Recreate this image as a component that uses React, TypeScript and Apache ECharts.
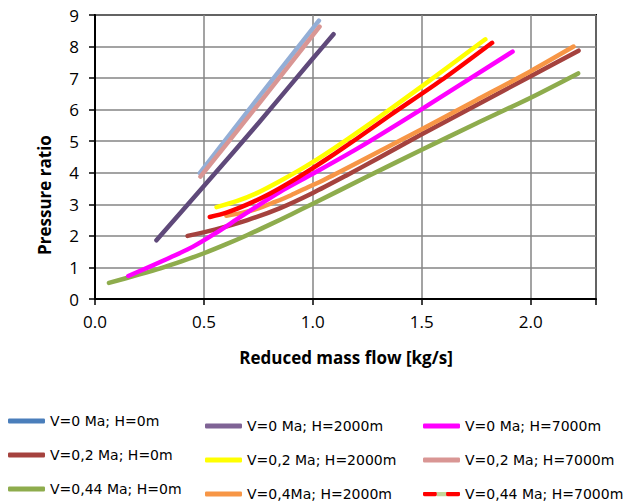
import React, { useEffect, useRef } from 'react';
import * as echarts from 'echarts';

// Series names (legend order: column-wise)
const seriesNames = [
  'V=0 Ma; H=0m',
  'V=0,2 Ma; H=0m',
  'V=0,44 Ma; H=0m',
  'V=0 Ma; H=2000m',
  'V=0,2 Ma; H=2000m',
  'V=0,4Ma; H=2000m',
  'V=0 Ma; H=7000m',
  'V=0,2 Ma; H=7000m',
  'V=0,44 Ma; H=7000m',
];

// [reduced mass flow, pressure ratio]
const v0h0 = [[0.481, 3.99], [0.75, 6.38], [1.028, 8.82]];
const v02h0 = [[0.425, 2.0], [0.55, 2.2], [0.7, 2.5], [0.85, 2.88], [1.0, 3.36], [1.15, 3.9], [1.3, 4.46], [1.5, 5.22], [1.75, 6.14], [2.0, 7.06], [2.22, 7.87]];
const v044h0 = [[0.064, 0.51], [0.2, 0.77], [0.3, 0.97], [0.4, 1.2], [0.5, 1.45], [0.6, 1.73], [0.7, 2.03], [0.8, 2.35], [0.9, 2.68], [1.0, 3.02], [1.25, 3.88], [1.5, 4.73], [1.75, 5.56], [2.0, 6.38], [2.218, 7.15]];
const v0h2000 = [[0.282, 1.86], [0.5, 3.58], [0.75, 5.57], [1.0, 7.62], [1.095, 8.39]];
const v02h2000 = [[0.558, 2.91], [0.65, 3.1], [0.75, 3.38], [0.85, 3.74], [0.95, 4.13], [1.05, 4.56], [1.15, 5.02], [1.3, 5.74], [1.5, 6.74], [1.792, 8.23]];
const v04h2000 = [[0.603, 2.64], [0.67, 2.72], [0.75, 2.87], [0.82, 3.06], [0.9, 3.29], [0.98, 3.55], [1.05, 3.77], [1.2, 4.3], [1.5, 5.38], [1.75, 6.3], [2.0, 7.22], [2.197, 8.0]];
const v0h7000 = [[0.153, 0.73], [0.25, 1.02], [0.35, 1.33], [0.45, 1.66], [0.55, 2.07], [0.65, 2.52], [0.75, 2.97], [0.85, 3.4], [1.0, 3.97], [1.2, 4.75], [1.5, 6.02], [1.917, 7.84]];
const v02h7000 = [[0.484, 3.88], [0.75, 6.17], [1.031, 8.63]];
const v044h7000 = [[0.527, 2.6], [0.6, 2.73], [0.7, 3.0], [0.8, 3.33], [0.9, 3.72], [1.0, 4.15], [1.1, 4.6], [1.2, 5.07], [1.35, 5.8], [1.6, 6.98], [1.823, 8.12]];

const seriesData = [v0h0, v02h0, v044h0, v0h2000, v02h2000, v04h2000, v0h7000, v02h7000, v044h7000];

const lineColors = ['#93AED6', '#A5423E', '#8EAC4D', '#5F497A', '#FFFF00', '#F79646', '#FF00FF', '#D99694', '#FF0000'];
const legendColors = ['#4A7EBB', '#A5423E', '#8EAC4D', '#7F6395', '#FFFF00', '#F79646', '#FF00FF', '#D99694', '#FF0000'];

const xTicks = { min: 0, max: 2.3, interval: 0.5 };
const yTicks = { min: 0, max: 9, interval: 1 };

const xTitle = 'Reduced mass flow [kg/s]';
const yTitle = 'Pressure ratio';

const redGreenSvg =
  "<svg xmlns='http://www.w3.org/2000/svg' width='40' height='5'>" +
  "<rect x='0' y='0' width='15' height='5' rx='2' fill='#FF0000'/>" +
  "<rect x='15' y='0' width='11' height='5' fill='#C3D69B'/>" +
  "<rect x='25' y='0' width='15' height='5' rx='2' fill='#FF0000'/></svg>";
const redGreenIcon = 'image://data:image/svg+xml;charset=utf-8,' + encodeURIComponent(redGreenSvg);

export default function App() {
  const ref = useRef<HTMLDivElement>(null);

  useEffect(() => {
    if (!ref.current) return;
    const chart = echarts.init(ref.current, undefined, { renderer: 'svg' });

    const tickFont = { fontFamily: 'Open Sans', fontSize: 17, color: '#000' };

    const legendItem = (i: number) => {
      const item: any = { name: seriesNames[i], itemStyle: { color: legendColors[i] } };
      if (i === 8) item.icon = redGreenIcon;
      return item;
    };

    const legendBase = {
      orient: 'vertical' as const,
      itemWidth: 37,
      itemHeight: 5,
      itemGap: 18,
      icon: 'roundRect',
      padding: 0,
      selectedMode: false,
      textStyle: { fontFamily: 'DejaVu Sans', fontSize: 14, lineHeight: 16, color: '#000' },
    };

    chart.setOption({
      animation: false,
      backgroundColor: '#fff',
      grid: {
        left: 95,
        top: 15,
        right: 38,
        bottom: 203,
        show: true,
        borderColor: '#000',
        borderWidth: 2,
        backgroundColor: 'transparent',
      },
      xAxis: {
        type: 'value',
        min: xTicks.min,
        max: xTicks.max,
        interval: xTicks.interval,
        axisLine: { show: true, onZero: false, lineStyle: { color: '#000', width: 2 } },
        axisTick: { show: true, length: 6, lineStyle: { color: '#000', width: 1.5 } },
        splitLine: { show: true, lineStyle: { color: '#858585', width: 1.5 } },
        axisLabel: {
          ...tickFont,
          margin: 14,
          formatter: (v: number) =>
            Math.abs(v / xTicks.interval - Math.round(v / xTicks.interval)) < 1e-6 ? v.toFixed(1) : '',
        },
      },
      yAxis: {
        type: 'value',
        min: yTicks.min,
        max: yTicks.max,
        interval: yTicks.interval,
        axisLine: { show: true, onZero: false, lineStyle: { color: '#000', width: 2 } },
        axisTick: { show: true, length: 6, lineStyle: { color: '#000', width: 1.5 } },
        splitLine: { show: true, lineStyle: { color: '#858585', width: 1.5 } },
        axisLabel: { ...tickFont, margin: 16 },
      },
      legend: [
        { ...legendBase, left: 8, top: 413, data: [0, 1, 2].map(legendItem) },
        { ...legendBase, left: 205, top: 418, data: [3, 4, 5].map(legendItem) },
        { ...legendBase, left: 423, top: 418, data: [6, 7, 8].map(legendItem) },
      ],
      graphic: [
        {
          type: 'text',
          x: 44,
          y: 195,
          rotation: Math.PI / 2,
          style: {
            text: yTitle,
            font: 'bold 17px "Open Sans"',
            fill: '#000',
            textAlign: 'center',
            textVerticalAlign: 'middle',
          },
        },
        {
          type: 'text',
          x: 346,
          y: 357,
          style: {
            text: xTitle,
            font: 'bold 17px "Open Sans"',
            fill: '#000',
            textAlign: 'center',
            textVerticalAlign: 'middle',
          },
        },
      ],
      series: seriesNames.map((name, i) => ({
        name,
        type: 'line',
        data: seriesData[i],
        smooth: 0.25,
        showSymbol: false,
        symbol: 'none',
        color: lineColors[i],
        lineStyle: { color: lineColors[i], width: 4.5, cap: 'round', join: 'round' },
        z: 2 + i,
      })),
    });

    return () => chart.dispose();
  }, []);

  return <div ref={ref} style={{ position: 'fixed', left: 0, top: 0, width: 634, height: 502 }} />;
}
